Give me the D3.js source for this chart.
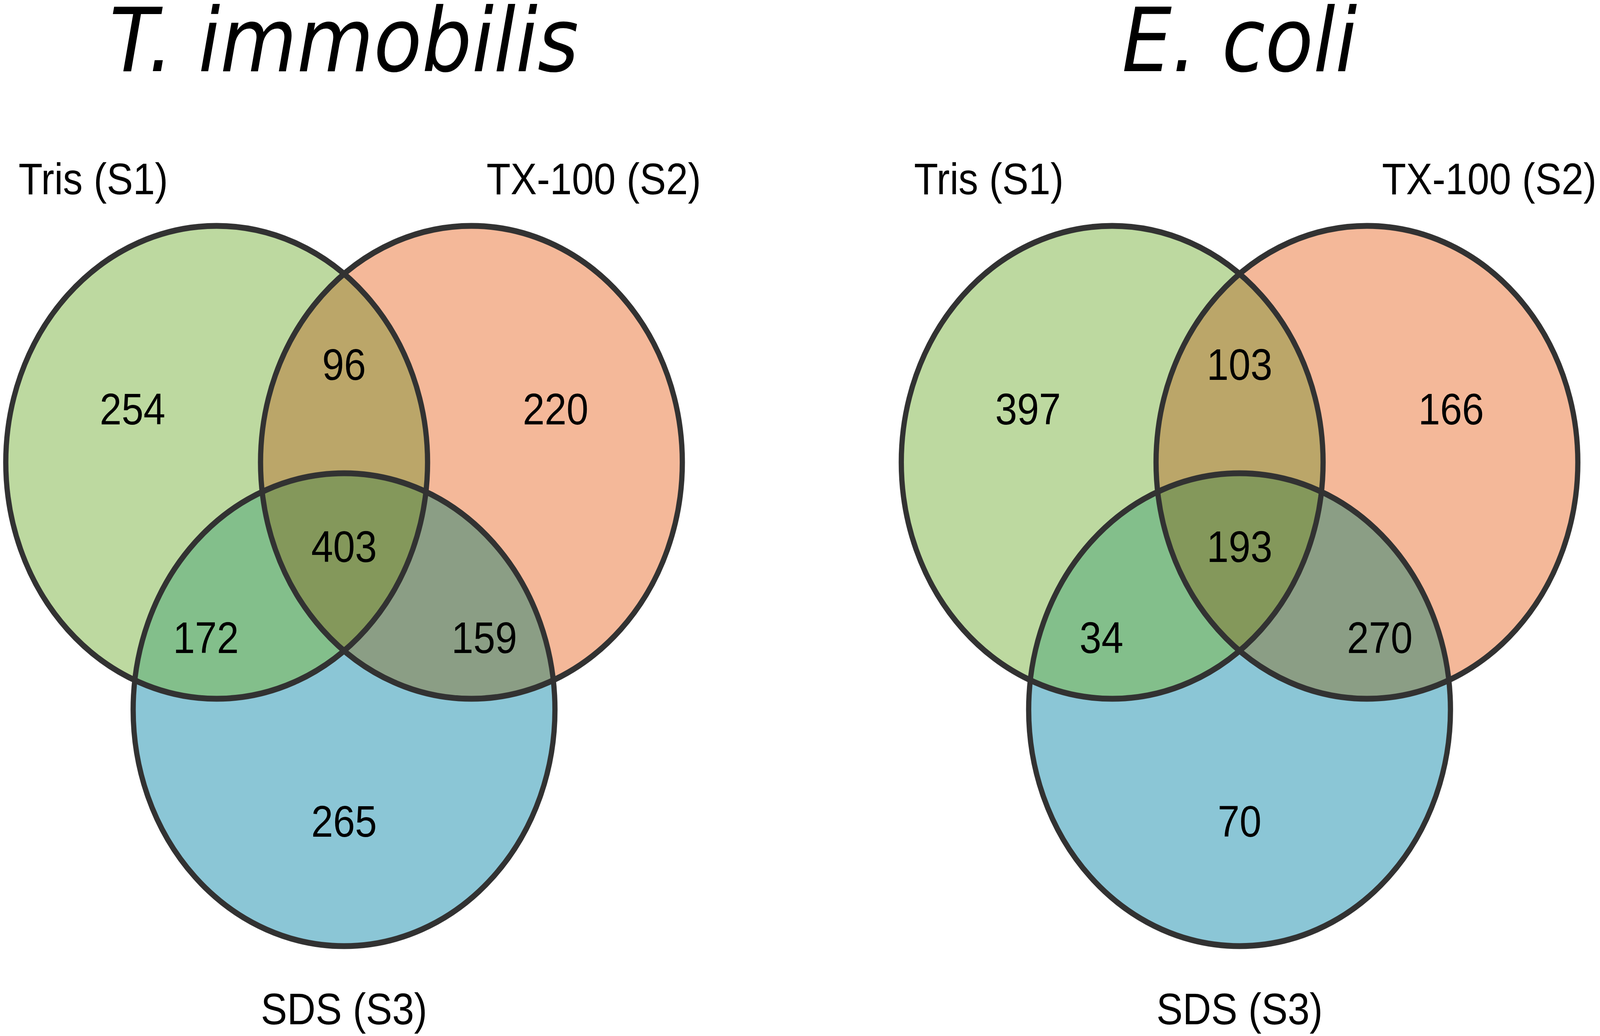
<!DOCTYPE html>
<html>
<head>
<meta charset="utf-8">
<script src="https://cdn.jsdelivr.net/npm/d3@7"></script>
<style>
  html,body{margin:0;padding:0;background:#fff;overflow:hidden;}
  svg{display:block;width:100vw;height:100vh;}
</style>
</head>
<body>
<div id="chart"></div>
<script>
/* two 3-set venn diagrams */

var W = 4590, H = 2651;

// data
var organisms = ["T. immobilis", "E. coli"];
var setNames = ["Tris (S1)", "TX-100 (S2)", "SDS (S3)"];
var regionKeys = ["100", "010", "001", "110", "101", "011", "111"];
var tImmobilisCounts = [254, 220, 265, 96, 172, 159, 403];
var eColiCounts = [397, 166, 70, 103, 34, 270, 193];
var panelCounts = [tImmobilisCounts, eColiCounts];

// colours for each region
var regionColor = {
  "100": "#bdd9a0",
  "010": "#f4b899",
  "001": "#8bc6d6",
  "110": "#bba669",
  "101": "#83bf8b",
  "011": "#8b9e85",
  "111": "#84985b"
};

// layout (in circle-radius units, r = 1)
var side = 1.208;
var centers = [
  {x: -side/2, y: -side*Math.sqrt(3)/6},
  {x:  side/2, y: -side*Math.sqrt(3)/6},
  {x: 0,       y:  side*Math.sqrt(3)/3}
];
var labelPos = {
  "100": [-1.003, -0.577],
  "010": [ 1.003, -0.577],
  "001": [ 0,      1.168],
  "110": [ 0,     -0.765],
  "101": [-0.655,  0.39],
  "011": [ 0.665,  0.39],
  "111": [ 0,      0.005]
};
var R = 605;
var panelX = [987, 3556], panelY = 1394;

// viewBox so the whole figure fills the window whatever its size
var svg = d3.select("#chart").append("svg")
  .attr("viewBox", "0 0 " + W + " " + H)
  .attr("preserveAspectRatio", "none");
svg.append("rect").attr("width", W).attr("height", H).attr("fill", "#fff");

var defs = svg.append("defs");

organisms.forEach(function(name, p){
  var x = d3.scaleLinear().domain([-1, 1]).range([panelX[p]-R, panelX[p]+R]);
  var y = d3.scaleLinear().domain([-1, 1]).range([panelY-R, panelY+R]);
  var rr = x(1) - x(0);
  var g = svg.append("g");

  // clip paths for circle A and B
  ["A","B"].forEach(function(k, i){
    defs.append("clipPath").attr("id", "clip"+k+p)
      .append("circle")
      .attr("cx", x(centers[i].x)).attr("cy", y(centers[i].y)).attr("r", rr);
  });

  function circ(sel, i){
    return sel.append("circle")
      .attr("cx", x(centers[i].x)).attr("cy", y(centers[i].y)).attr("r", rr);
  }

  // single sets
  circ(g, 0).attr("fill", regionColor["100"]);
  circ(g, 1).attr("fill", regionColor["010"]);
  circ(g, 2).attr("fill", regionColor["001"]);
  // pairwise overlaps
  circ(g, 1).attr("fill", regionColor["110"]).attr("clip-path", "url(#clipA"+p+")");
  circ(g, 2).attr("fill", regionColor["101"]).attr("clip-path", "url(#clipA"+p+")");
  circ(g, 2).attr("fill", regionColor["011"]).attr("clip-path", "url(#clipB"+p+")");
  // triple overlap
  var gA = g.append("g").attr("clip-path", "url(#clipA"+p+")");
  circ(gA, 2).attr("fill", regionColor["111"]).attr("clip-path", "url(#clipB"+p+")");

  // outlines
  g.selectAll("circle.outline")
    .data(centers).enter()
    .append("circle")
    .attr("class", "outline")
    .attr("cx", function(d){return x(d.x);})
    .attr("cy", function(d){return y(d.y);})
    .attr("r", rr)
    .attr("fill", "none")
    .attr("stroke", "#323232")
    .attr("stroke-width", 15);

  // region counts
  g.selectAll("text.count")
    .data(regionKeys).enter()
    .append("text")
    .attr("class", "count")
    .attr("x", function(k){return x(labelPos[k][0]);})
    .attr("y", function(k){return y(labelPos[k][1]);})
    .attr("dy", "0.36em")
    .attr("text-anchor", "middle")
    .style("font-family", "'Liberation Sans', Arial, sans-serif")
    .style("font-size", "113px")
    .attr("fill", "#000")
    .text(function(k, i){return panelCounts[p][i];});

  // set labels
  var setPos = [
    {x: centers[0].x - 0.585, y: centers[0].y - 1.134},
    {x: centers[1].x + 0.58,  y: centers[1].y - 1.134},
    {x: centers[2].x,         y: centers[2].y + 1.33}
  ];
  g.selectAll("text.setlabel")
    .data(setNames).enter()
    .append("text")
    .attr("class", "setlabel")
    .attr("x", function(d, i){return x(setPos[i].x);})
    .attr("y", function(d, i){return y(setPos[i].y);})
    .attr("text-anchor", "middle")
    .style("font-family", "'Liberation Sans', Arial, sans-serif")
    .style("font-size", "113px")
    .attr("fill", "#000")
    .text(function(d){return d;});

  // title
  svg.append("text")
    .attr("x", x(0))
    .attr("y", 182)
    .attr("text-anchor", "middle")
    .style("font-family", "'DejaVu Sans', sans-serif")
    .style("font-style", "italic")
    .style("font-size", "226px")
    .attr("fill", "#000")
    .text(name);
});
</script>
</body>
</html>
